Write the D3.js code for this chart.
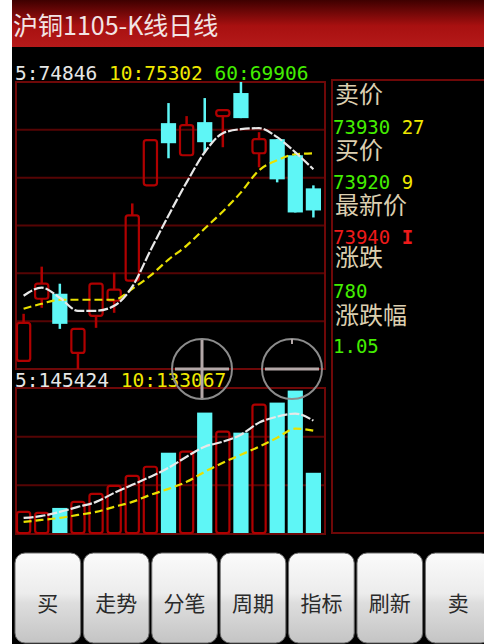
<!DOCTYPE html>
<html><head><meta charset="utf-8">
<script src="https://cdn.jsdelivr.net/npm/d3@7"></script>
<style>html,body{margin:0;padding:0;background:#fff;overflow:hidden}</style>
</head><body><svg id="c" width="484" height="644"></svg>
<script>
// ---- data ----
const days = ["1","2","3","4","5","6","7","8","9","10","11","12","13","14","15","16","17"];
const openP  = [70490,71916,72031,70674,71525,71870,72330,74515,75941,75205,75964,76102,76631,75251,75573,75205,74446];
const highP  = [71571,72652,72261,71226,72261,72514,74101,75550,76401,76102,76516,76240,76884,75734,75573,75274,74515];
const lowP   = [70490,71709,71226,70306,71249,71594,72330,74515,75136,75205,75274,75389,76056,74929,74584,73894,73779];
const closeP = [71364,72261,71341,71226,72261,72123,73825,75550,75481,75895,75504,76240,76056,75573,74653,73894,73940];
const ma5    = [71985,72169,71939,71640,71640,71755,72192,73020,73825,74584,75274,75711,75803,75826,75619,75274,74883];
const ma10   = [71686,71801,71893,71893,71893,71893,72146,72445,72813,73135,73526,73917,74354,74860,75090,75228,75251];
const volume = [29500,28300,33400,42400,52700,63000,75800,87400,104100,106700,155500,132300,129800,167000,168300,183700,78400];
const vma5   = [20560,23130,28270,34700,41120,52690,62970,73250,84810,98950,111800,118220,127220,142640,150350,154200,145210];
const vma10  = [15420,17990,20560,24420,28270,34700,41120,50120,57830,66820,79670,91240,101520,111800,123360,134930,132360];
const title = "沪铜1105-K线日线";
const priceLabels = [["5:74846","#e6e6e6"],["10:75302","#f0e800"],["60:69906","#44ee00"]];
const volLabels = [["5:145424","#e6e6e6"],["10:133067","#f0e800"]];
const quote = [
  {label:"卖价", vals:[["73930","#44ee00"],["27","#f0e800"]]},
  {label:"买价", vals:[["73920","#44ee00"],["9","#f0e800"]]},
  {label:"最新价", vals:[["73940","#ee1a1a"],["I","#ee1a1a"]]},
  {label:"涨跌", vals:[["780","#44ee00"]]},
  {label:"涨跌幅", vals:[["1.05","#44ee00"]]}
];
const buttons = ["买","走势","分笔","周期","指标","刷新","卖"];

// ---- drawing ----
const svg = d3.select("#c");
const defs = svg.append("defs");
const tg = defs.append("linearGradient").attr("id","tg").attr("x1",0).attr("y1",0).attr("x2",0).attr("y2",1);
tg.append("stop").attr("offset","0").attr("stop-color","#3e0000");
tg.append("stop").attr("offset","0.55").attr("stop-color","#a81010");
tg.append("stop").attr("offset","1").attr("stop-color","#b51a1a");
const bg = defs.append("linearGradient").attr("id","bg").attr("x1",0).attr("y1",0).attr("x2",0).attr("y2",1);
bg.append("stop").attr("offset","0").attr("stop-color","#fbfbfb");
bg.append("stop").attr("offset","0.45").attr("stop-color","#ececec");
bg.append("stop").attr("offset","0.55").attr("stop-color","#dedede");
bg.append("stop").attr("offset","1").attr("stop-color","#c4c4c4");

svg.append("rect").attr("x",0).attr("y",0).attr("width",484).attr("height",644).attr("fill","#fff");
svg.append("rect").attr("x",12).attr("y",0).attr("width",472).attr("height",644).attr("fill","#000");
svg.append("rect").attr("x",12).attr("y",0).attr("width",472).attr("height",47).attr("fill","url(#tg)");
svg.append("text").attr("x",13).attr("y",35).attr("fill","#f2e4e4")
  .attr("font-family","'Noto Sans CJK SC'").attr("font-size",25).text(title);

const L = 16, R = 325, mTop = 82, mBot = 369, vTop = 388, vBot = 534;
const border = "#6e0808", gridC = "#560404";
const upC = "#b00000", downC = "#5ef6f6";

const x = d3.scaleBand().domain(days).range([L, 321]).paddingInner(0.16).paddingOuter(0);
const bw = x.bandwidth();
const y = d3.scaleLinear().domain([d3.min(lowP), d3.max(highP)]).range([mBot, mTop]);
const yv = d3.scaleLinear().domain([0, 187000]).range([vBot, vTop]);

// frames & grids
function frame(top, bot, n){
  const g = svg.append("g");
  const h = (bot-top)/n;
  d3.range(1,n).forEach(i=>{
    g.append("line").attr("x1",L).attr("x2",R).attr("y1",top+i*h).attr("y2",top+i*h)
      .attr("stroke",gridC).attr("stroke-width",2);
  });
  g.append("rect").attr("x",L).attr("y",top).attr("width",R-L).attr("height",bot-top)
    .attr("fill","none").attr("stroke",border).attr("stroke-width",2);
}
frame(mTop, mBot, 6);
frame(vTop, vBot, 3);
svg.append("rect").attr("x",332).attr("y",80).attr("width",170).attr("height",453)
  .attr("fill","none").attr("stroke",border).attr("stroke-width",2);

// candles
const cg = svg.append("g");
days.forEach((d,i)=>{
  const o=openP[i], c=closeP[i], h=highP[i], l=lowP[i];
  const up = c>=o;
  const col = up?upC:downC;
  const cx = x(d)+bw/2;
  const bt = y(Math.max(o,c)), bb = y(Math.min(o,c));
  if (up){
    if (y(h) < bt) cg.append("line").attr("x1",cx).attr("x2",cx).attr("y1",y(h)).attr("y2",bt).attr("stroke",col).attr("stroke-width",2.5);
    if (y(l) > bb) cg.append("line").attr("x1",cx).attr("x2",cx).attr("y1",bb).attr("y2",y(l)).attr("stroke",col).attr("stroke-width",2.5);
    cg.append("rect").attr("x",x(d)+1).attr("y",bt).attr("width",bw-2).attr("height",Math.max(bb-bt,3))
      .attr("rx",2.5).attr("fill","none").attr("stroke",col).attr("stroke-width",2.2);
  } else {
    cg.append("line").attr("x1",cx).attr("x2",cx).attr("y1",y(h)).attr("y2",y(l)).attr("stroke",col).attr("stroke-width",2.5);
    cg.append("rect").attr("x",x(d)).attr("y",bt).attr("width",bw).attr("height",Math.max(bb-bt,2)).attr("fill",col);
  }
});

// MA lines
function maLine(arr, sc, color, dash){
  const ln = d3.line().x((v,i)=>x(days[i])+bw/2).y(v=>sc(v)).curve(d3.curveMonotoneX);
  svg.append("path").attr("d",ln(arr)).attr("fill","none").attr("stroke",color)
    .attr("stroke-width",2.2).attr("stroke-dasharray",dash);
}
maLine(ma10, y, "#e8e000", "8,4");
maLine(ma5, y, "#e8e8e8", "10,2");

// volume bars
const vg = svg.append("g");
days.forEach((d,i)=>{
  const up = closeP[i]>=openP[i];
  const t = yv(volume[i]);
  if (up){
    vg.append("rect").attr("x",x(d)+1).attr("y",t+1).attr("width",bw-2).attr("height",vBot-t-2)
      .attr("rx",2.5).attr("fill","none").attr("stroke",upC).attr("stroke-width",2.2);
  } else {
    vg.append("rect").attr("x",x(d)).attr("y",t).attr("width",bw).attr("height",vBot-t-1).attr("fill",downC);
  }
});
maLine(vma10, yv, "#e8e000", "8,4");
maLine(vma5, yv, "#e8e8e8", "10,2");

// labels
const mono = "'DejaVu Sans Mono'";
function labelRow(items, x0, yb){
  const t = svg.append("text").attr("x",x0).attr("y",yb).attr("font-family",mono).attr("font-size",19.5)
    .attr("xml:space","preserve");
  items.forEach((it,k)=>{
    t.append("tspan").attr("fill",it[1]).text((k?" ":"")+it[0]);
  });
}
labelRow(priceLabels, 15, 80);
labelRow(volLabels, 15, 387);

// crosshair circles
const cc = svg.append("g");
[[202,369,true],[292,369,false]].forEach(([cx,cy,vert])=>{
  cc.append("circle").attr("cx",cx).attr("cy",cy).attr("r",30).attr("fill","none").attr("stroke","#8c8c8c").attr("stroke-width",2);
  cc.append("line").attr("x1",cx-27).attr("x2",cx+27).attr("y1",cy).attr("y2",cy).attr("stroke","#b4a8a8").attr("stroke-width",3);
  if (vert) cc.append("line").attr("x1",cx).attr("x2",cx).attr("y1",cy-29).attr("y2",cy+29).attr("stroke","#b4a8a8").attr("stroke-width",3);
  else cc.append("line").attr("x1",cx).attr("x2",cx).attr("y1",cy-30).attr("y2",cy-25).attr("stroke","#b4a8a8").attr("stroke-width",2);
});

// quote panel
const qBase = [103,159,214,266,324];
const nBase = [134,189,244,298,353];
quote.forEach((q,i)=>{
  svg.append("text").attr("x",335).attr("y",qBase[i]).attr("fill","#dccfb0")
    .attr("font-family","'Noto Sans CJK SC'").attr("font-size",24).text(q.label);
  const t = svg.append("text").attr("x",333).attr("y",nBase[i]).attr("font-family",mono).attr("font-size",19)
    .attr("xml:space","preserve");
  q.vals.forEach((v,k)=>{
    t.append("tspan").attr("fill",v[1]).attr("font-weight",v[0]==="I"?"bold":"normal").text((k?" ":"")+v[0]);
  });
});

// buttons
const bx = d3.scaleBand().domain(buttons).range([15, 15+68*7]).paddingInner(0.04).paddingOuter(0);
buttons.forEach(b=>{
  const g = svg.append("g");
  g.append("rect").attr("x",bx(b)).attr("y",553).attr("width",bx.bandwidth()).attr("height",90)
    .attr("rx",10).attr("fill","url(#bg)").attr("stroke","#6a6a6a").attr("stroke-width",1);
  g.append("text").attr("x",bx(b)+bx.bandwidth()/2).attr("y",611).attr("text-anchor","middle")
    .attr("fill","#2a2a2a").attr("font-family","'Noto Sans CJK SC'").attr("font-size",21).text(b);
});
</script></body></html>
